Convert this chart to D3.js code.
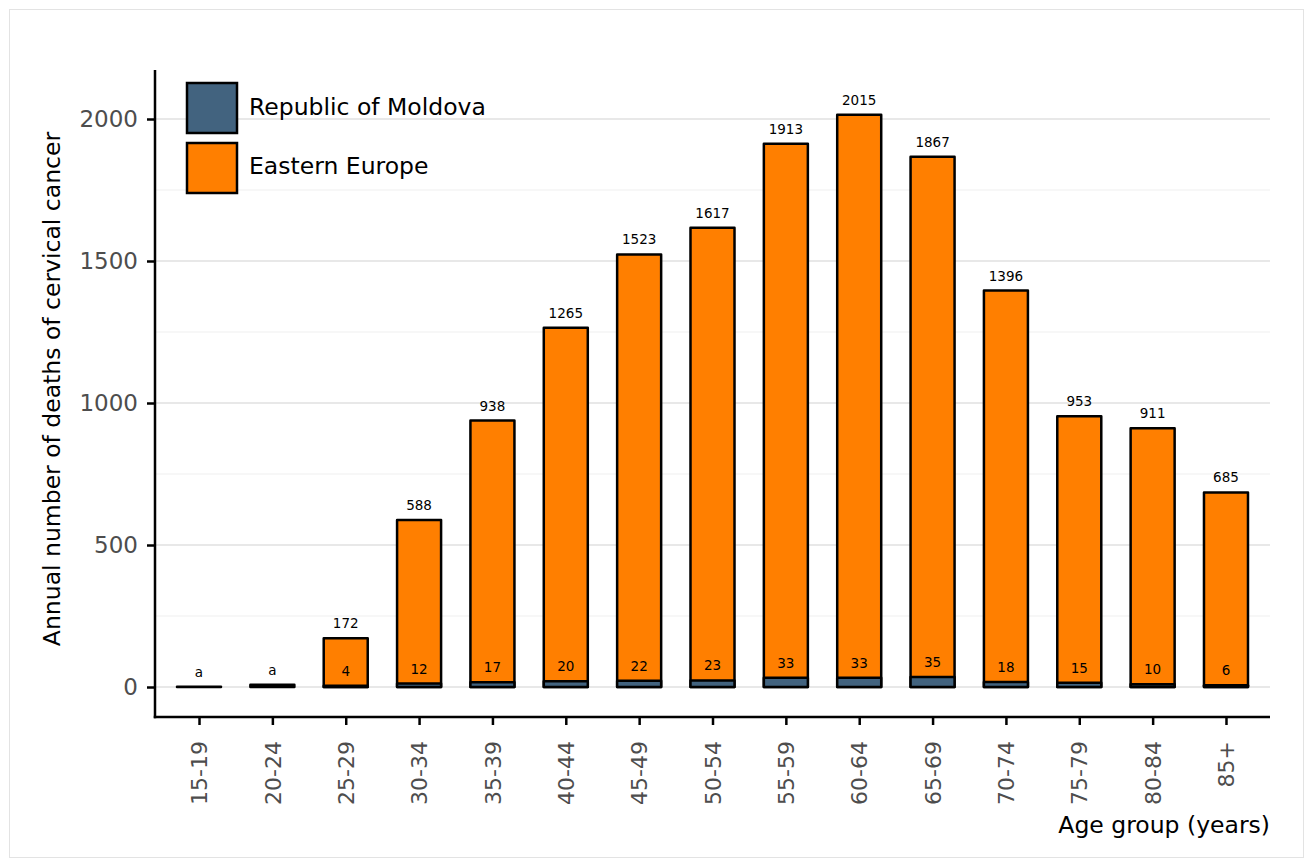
<!DOCTYPE html>
<html><head><meta charset="utf-8">
<script src="https://cdn.jsdelivr.net/npm/d3@7"></script>
<style>body{margin:0;background:#fff}svg{display:block}text{font-family:"DejaVu Sans",sans-serif}</style>
</head><body>
<script>
const ageGroups = ["15-19","20-24","25-29","30-34","35-39","40-44","45-49","50-54","55-59","60-64","65-69","70-74","75-79","80-84","85+"];
const easternEurope = [1, 8, 172, 588, 938, 1265, 1523, 1617, 1913, 2015, 1867, 1396, 953, 911, 685];
const easternEuropeLabels = ["a","a","172","588","938","1265","1523","1617","1913","2015","1867","1396","953","911","685"];
const moldova = [0, 0, 4, 12, 17, 20, 22, 23, 33, 33, 35, 18, 15, 10, 6];
const moldovaLabels = ["","","4","12","17","20","22","23","33","33","35","18","15","10","6"];
const seriesNames = ["Republic of Moldova","Eastern Europe"];
const seriesColors = ["#42637f","#ff7f00"];
const yTicks = [0, 500, 1000, 1500, 2000];
const yMinor = [250, 750, 1250, 1750];

const W = 1312, H = 865;
const L = 155, R = 1270, T = 70, B = 717;
const svg = d3.select("body").append("svg").attr("width", W).attr("height", H);
svg.append("rect").attr("x", 9.5).attr("y", 9.5).attr("width", 1294).attr("height", 848)
  .attr("fill", "#fff").attr("stroke", "#e3e3e3").attr("stroke-width", 1);

const x = d3.scalePoint().domain(ageGroups).range([L, R]).padding(0.6);
const bw = x.step() * 0.6;
const y = d3.scaleLinear().domain([-105.6, 2172.5]).range([B, T]);

// grid
svg.append("g").selectAll("line").data(yMinor).join("line")
  .attr("x1", L).attr("x2", R).attr("y1", d => y(d)).attr("y2", d => y(d))
  .attr("stroke", "#f5f5f5").attr("stroke-width", 1.5);
svg.append("g").selectAll("line").data(yTicks).join("line")
  .attr("x1", L).attr("x2", R).attr("y1", d => y(d)).attr("y2", d => y(d))
  .attr("stroke", "#e8e8e8").attr("stroke-width", 2);

const rows = ageGroups.map((g, i) => ({g, ee: easternEurope[i], md: moldova[i], eeL: easternEuropeLabels[i], mdL: moldovaLabels[i]}));

// Eastern Europe bars
svg.append("g").selectAll("rect").data(rows).join("rect")
  .attr("x", d => x(d.g) - bw/2).attr("width", bw)
  .attr("y", d => y(d.ee)).attr("height", d => y(0) - y(d.ee))
  .attr("fill", seriesColors[1]).attr("stroke", "#000").attr("stroke-width", 2.5)
  .attr("stroke-linejoin", "round");
// Moldova bars
svg.append("g").selectAll("rect").data(rows).join("rect")
  .attr("x", d => x(d.g) - bw/2).attr("width", bw)
  .attr("y", d => y(d.md)).attr("height", d => y(0) - y(d.md))
  .attr("fill", seriesColors[0]).attr("stroke", "#000").attr("stroke-width", 2.5)
  .attr("stroke-linejoin", "round");

// labels
svg.append("g").selectAll("text").data(rows).join("text")
  .attr("x", d => x(d.g)).attr("y", d => y(d.ee) - 10)
  .attr("text-anchor", "middle").attr("font-size", 13.5).attr("fill", "#000").text(d => d.eeL);
svg.append("g").selectAll("text").data(rows).join("text")
  .attr("x", d => x(d.g)).attr("y", d => y(d.md) - 10)
  .attr("text-anchor", "middle").attr("font-size", 13.5).attr("fill", "#000").text(d => d.mdL);

// axes
const yAxis = svg.append("g").attr("transform", `translate(${L},0)`)
  .call(d3.axisLeft(y).tickValues(yTicks).tickSize(8).tickPadding(9).tickFormat(d3.format("d")));
yAxis.select(".domain").remove();
yAxis.selectAll(".tick line").attr("stroke", "#000").attr("stroke-width", 2.5);
yAxis.selectAll("text").attr("font-size", 23).attr("fill", "#4d4d4d").attr("font-family", "DejaVu Sans");

const xAxis = svg.append("g").attr("transform", `translate(0,${B})`)
  .call(d3.axisBottom(x).tickSize(8));
xAxis.select(".domain").remove();
xAxis.selectAll(".tick line").attr("stroke", "#000").attr("stroke-width", 2.5);
xAxis.selectAll("text").attr("font-size", 22).attr("fill", "#4d4d4d").attr("font-family", "DejaVu Sans")
  .attr("transform", "rotate(-90)").attr("text-anchor", "end")
  .attr("x", -24).attr("y", 0).attr("dy", "0.35em");

svg.append("line").attr("x1", L).attr("x2", L).attr("y1", T).attr("y2", B + 1.25)
  .attr("stroke", "#000").attr("stroke-width", 2.5);
svg.append("line").attr("x1", L - 1.25).attr("x2", R).attr("y1", B).attr("y2", B)
  .attr("stroke", "#000").attr("stroke-width", 2.5);

// titles
svg.append("text").attr("transform", `translate(60,389) rotate(-90)`).attr("text-anchor", "middle")
  .attr("font-size", 23.5).attr("fill", "#000").text("Annual number of deaths of cervical cancer");
svg.append("text").attr("x", R).attr("y", 833).attr("text-anchor", "end")
  .attr("font-size", 23.5).attr("fill", "#000").text("Age group (years)");

// legend
const leg = svg.append("g");
seriesNames.forEach((n, i) => {
  leg.append("rect").attr("x", 187).attr("y", 83 + i*60).attr("width", 50).attr("height", 50)
    .attr("fill", seriesColors[i]).attr("stroke", "#000").attr("stroke-width", 2.5);
  leg.append("text").attr("x", 249).attr("y", 107 + i*59).attr("dy", "0.35em")
    .attr("font-size", 23.5).attr("fill", "#000").text(n);
});
</script>
</body></html>
